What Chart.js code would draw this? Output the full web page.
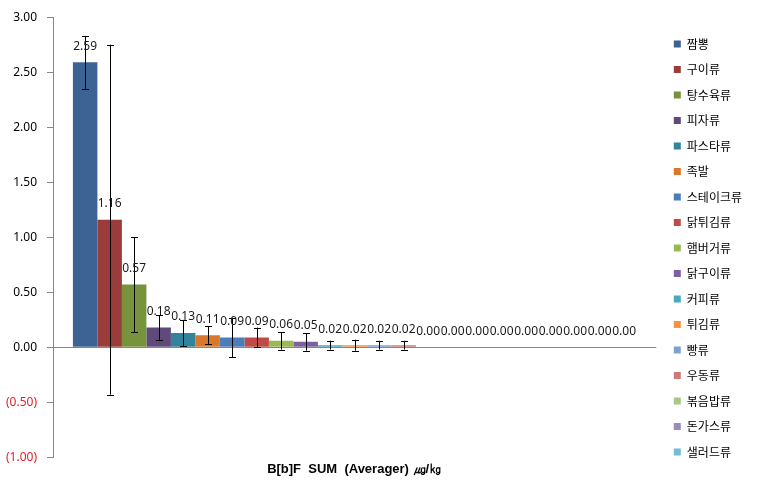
<!DOCTYPE html>
<html>
<head>
<meta charset="utf-8">
<script src="https://cdn.jsdelivr.net/npm/chart.js@4/dist/chart.umd.min.js"></script>
<style>
html,body{margin:0;padding:0;background:#fff;}
#wrap{width:768px;height:499px;position:relative;}
</style>
</head>
<body>
<div id="wrap"><canvas id="c" width="768" height="499"></canvas></div>
<script>
const categories = [""];
const seriesNames = ["짬뽕","구이류","탕수육류","피자류","파스타류","족발","스테이크류","닭튀김류","햄버거류","닭구이류","커피류","튀김류","빵류","우동류","볶음밥류","돈가스류","샐러드류","기타1","기타2","기타3","기타4","기타5","기타6"];
const seriesValues = [2.59,1.16,0.57,0.18,0.13,0.11,0.09,0.09,0.06,0.05,0.02,0.02,0.02,0.02,0.00,0.00,0.00,0.00,0.00,0.00,0.00,0.00,0.00];
const seriesErrors = [0.24,1.59,0.43,0.11,0.12,0.08,0.18,0.09,0.08,0.08,0.04,0.05,0.04,0.04,0,0,0,0,0,0,0,0,0];
const seriesColors = ["#3D6394","#993C3A","#77933C","#604A7B","#31849B","#D9782D","#4A7EBB","#BE4B48","#98B954","#7D60A0","#46AAC5","#F69240","#7F9FD1","#CD7B79","#A8C684","#9F8AC0","#74BCD4","#F9B984","#A7BDE2","#E2A9A8","#CADBAA","#BFB1D2","#A6D6E4"];
const yTicks = {min:-1, max:3, step:0.5};
const legendCount = 17;
const xTitle = "B[b]F  SUM  (Averager) ㎍/㎏";

const datasets = seriesNames.map((n,i)=>({
  label:n,
  data:[seriesValues[i]],
  err:[seriesErrors[i]],
  backgroundColor:seriesColors[i],
  borderWidth:0,
  barPercentage:1.0,
  categoryPercentage:0.934
}));

const fmt = v => v < 0 ? '(' + Math.abs(v).toFixed(2) + ')' : v.toFixed(2);

const overlay = {
  id:'overlay',
  afterDatasetsDraw(chart){
    const ctx = chart.ctx;
    const y = chart.scales.y;
    ctx.save();
    ctx.strokeStyle = '#000';
    ctx.lineWidth = 1;
    chart.data.datasets.forEach((ds,i)=>{
      const meta = chart.getDatasetMeta(i);
      meta.data.forEach((bar,j)=>{
        const e = ds.err[j];
        if(!e) return;
        const v = ds.data[j];
        const x = Math.round(bar.x)+0.5;
        const yt = y.getPixelForValue(v+e), yb = y.getPixelForValue(v-e);
        ctx.beginPath();
        ctx.moveTo(x,yt); ctx.lineTo(x,yb);
        ctx.moveTo(x-3.5,Math.round(yt)+0.5); ctx.lineTo(x+3.5,Math.round(yt)+0.5);
        ctx.moveTo(x-3.5,Math.round(yb)+0.5); ctx.lineTo(x+3.5,Math.round(yb)+0.5);
        ctx.stroke();
      });
    });
    ctx.fillStyle = '#1a1a1a';
    ctx.font = '12px "Noto Sans", "DejaVu Sans", sans-serif';
    ctx.textAlign = 'center';
    ctx.textBaseline = 'middle';
    chart.data.datasets.forEach((ds,i)=>{
      const meta = chart.getDatasetMeta(i);
      meta.data.forEach((bar,j)=>{
        const v = ds.data[j];
        ctx.fillText(v.toFixed(2), bar.x, y.getPixelForValue(v) - 16);
      });
    });
    ctx.restore();
  }
};

new Chart(document.getElementById('c'),{
  type:'bar',
  data:{labels:categories, datasets},
  plugins:[overlay],
  options:{
    responsive:false,
    animation:false,
    devicePixelRatio:1,
    layout:{padding:{top:9,right:16,bottom:22,left:0}},
    plugins:{
      legend:{
        position:'right',
        title:{display:true, text:'', padding:0, font:{size:8.33}},
        labels:{
          boxWidth:7, boxHeight:7, padding:13.5,
          color:'#000',
          font:{family:'"Noto Sans CJK KR", sans-serif', size:12},
          filter:(item)=>item.datasetIndex < legendCount
        }
      },
      tooltip:{enabled:false}
    },
    scales:{
      x:{
        grid:{display:false, drawTicks:false},
        border:{display:false},
        ticks:{display:false},
        title:{display:true, text:xTitle, color:'#000', font:{family:'Liberation Sans, Arial, sans-serif', size:13, weight:'bold'}, padding:{top:4,bottom:0}}
      },
      y:{
        min:yTicks.min, max:yTicks.max,
        afterFit:s=>{ s.width = 53; },
        border:{display:true, color:'#868686'},
        grid:{
          drawOnChartArea:true,
          color:c=> (c.tick && c.tick.value===0) ? '#868686' : 'rgba(0,0,0,0)',
          tickColor:'#868686', tickLength:6, drawTicks:true
        },
        ticks:{
          stepSize:yTicks.step,
          padding:10,
          color:c=> c.tick.value < 0 ? '#E0202A' : '#000',
          font:{family:'"Noto Sans", sans-serif', size:12},
          callback:v=>fmt(v)
        }
      },
      y2:{
        position:'right',
        display:true,
        grid:{display:false, drawTicks:false},
        border:{display:false},
        ticks:{display:false},
        afterFit:s=>{ s.width = 4; }
      }
    }
  }
});
</script>
</body>
</html>
